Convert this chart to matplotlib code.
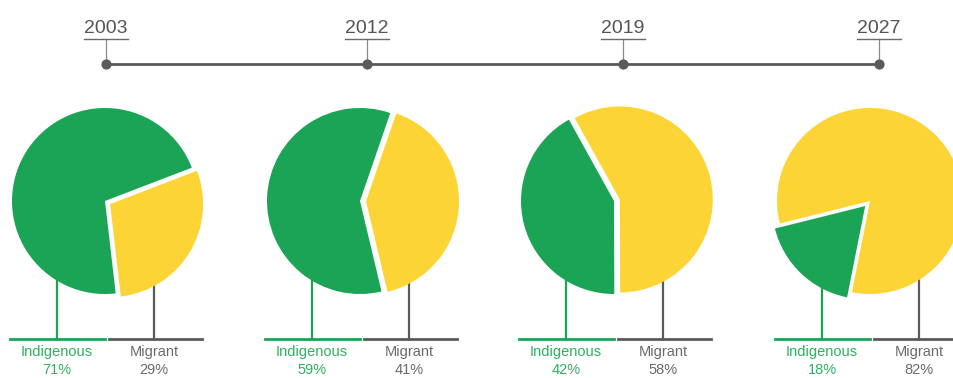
import matplotlib.pyplot as plt

plt.rcParams["font.family"] = ["Liberation Sans", "DejaVu Sans"]

years = ["2003", "2012", "2019", "2027"]
indigenous = [71, 59, 42, 18]
migrant = [29, 41, 58, 82]

GREEN = "#1ba456"
YELLOW = "#fdd436"
GRAY = "#5a5a5a"
LABEL_GREEN = "#2bb35f"
LABEL_GRAY = "#6a6a6a"

W, H = 954, 378

# layout in pixel units (y measured from the top, flipped when drawn)
dot_x = [106, 367, 623, 879]
pie_x = [105, 360, 614, 870]
pie_y = 201
radius = 93
start_angles = [21, 71, 119, 194]
# which slice is pulled out (0 = indigenous, 1 = migrant) and by how much
pulled = [1, 1, 1, 0]
pull_dist = [6, 6, 6, 7]


def fy(y):
    return H - y


fig = plt.figure(figsize=(W / 100, H / 100), dpi=100)
ax = fig.add_axes([0, 0, 1, 1])

# timeline
ax.plot([dot_x[0], dot_x[-1]], [fy(64), fy(64)], color=GRAY, lw=2, zorder=2)
ax.scatter(dot_x, [fy(64)] * len(dot_x), s=40, color=GRAY, zorder=3)
for x, yr in zip(dot_x, years):
    ax.plot([x, x], [fy(39), fy(64)], color="#8a8a8a", lw=0.9, zorder=1)
    ax.plot([x - 22, x + 22], [fy(39), fy(39)], color="#6a6a6a", lw=1.0)
    ax.text(x, fy(33), yr, ha="center", va="baseline", fontsize=14,
            color="#555555")

for i in range(len(years)):
    cx = pie_x[i]
    explode = [0, 0]
    explode[pulled[i]] = pull_dist[i]
    ax.pie([indigenous[i], migrant[i]], colors=[GREEN, YELLOW],
           startangle=start_angles[i], counterclock=True, radius=radius,
           center=(cx, fy(pie_y)), explode=explode,
           wedgeprops=dict(linewidth=0), frame=True)

    # leader lines down to the labels
    gx, mx = cx - 48, cx + 49
    ax.plot([gx, gx], [fy(270), fy(339)], color=GREEN, lw=1.6, zorder=0)
    ax.plot([mx, mx], [fy(270), fy(339)], color=GRAY, lw=1.6, zorder=0)
    ax.plot([cx - 95, cx], [fy(339), fy(339)], color=GREEN, lw=2)
    ax.plot([cx + 4, cx + 97], [fy(339), fy(339)], color=GRAY, lw=2)

    ax.text(gx, fy(356), "Indigenous", ha="center", va="baseline",
            fontsize=10.5, color=LABEL_GREEN)
    ax.text(gx, fy(374), f"{indigenous[i]}%", ha="center", va="baseline",
            fontsize=10.5, color=LABEL_GREEN)
    ax.text(mx, fy(356), "Migrant", ha="center", va="baseline",
            fontsize=10.5, color=LABEL_GRAY)
    ax.text(mx, fy(374), f"{migrant[i]}%", ha="center", va="baseline",
            fontsize=10.5, color=LABEL_GRAY)

ax.set_xlim(0, W)
ax.set_ylim(0, H)
ax.set_aspect("auto")
ax.axis("off")

fig.savefig("out.png", dpi=100, facecolor="white")
